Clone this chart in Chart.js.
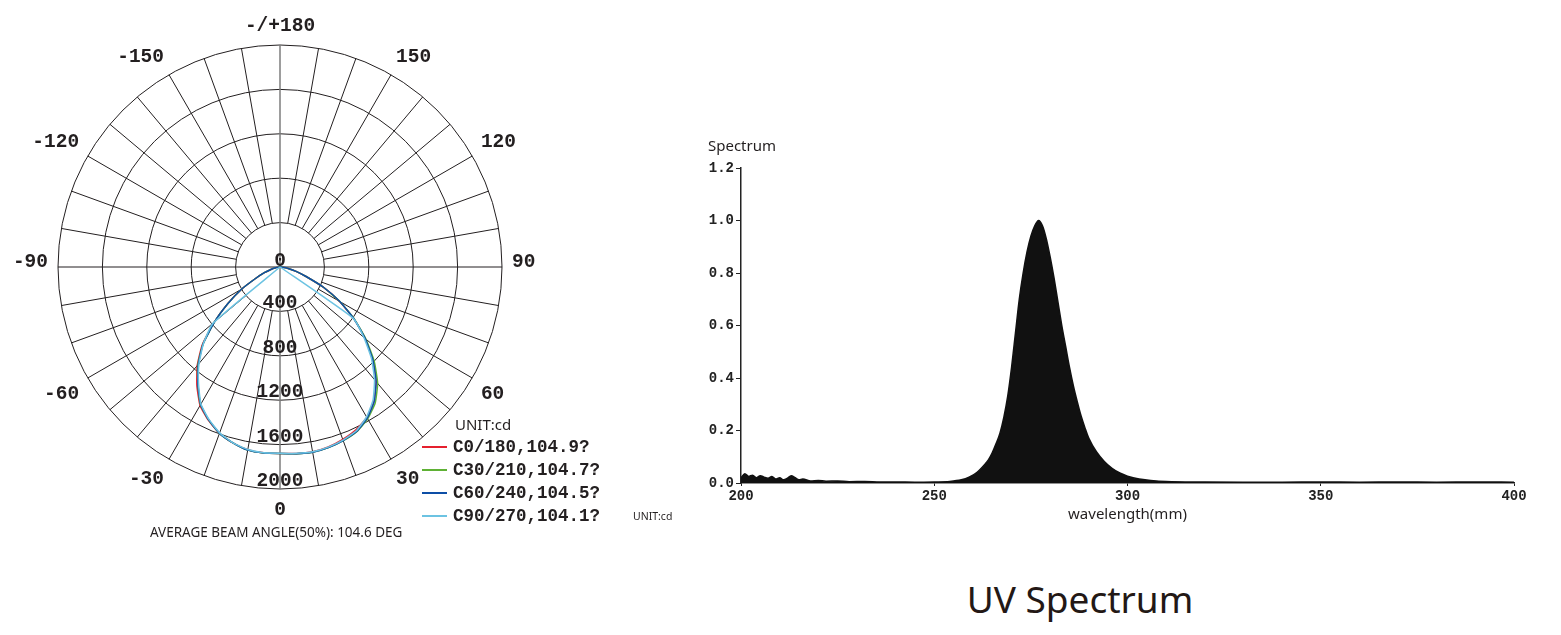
<!DOCTYPE html>
<html>
<head>
<meta charset="utf-8">
<script src="https://cdn.jsdelivr.net/npm/chart.js@4.4.1/dist/chart.umd.min.js"></script>
<style>
  html, body { margin: 0; padding: 0; background: #fff; }
  body {
    width: 1561px;
    height: 635px;
    position: relative;
    overflow: hidden;
    font-family: "Noto Sans", sans-serif;
    color: #231f20;
  }
  canvas { position: absolute; }
  #polar { left: 0; top: 0; }
  #spectrum { left: 690px; top: 130px; }
  .txt { position: absolute; white-space: nowrap; line-height: 1; }
  #legend { position: absolute; left: 422px; top: 414px; }
  #legend .unit { font-size: 15px; margin-left: 33px; margin-bottom: 1px; }
  #legend .row { display: flex; align-items: center; height: 23px; }
  #legend .swatch { width: 25px; height: 2px; margin-right: 6px; }
  #legend .name {
    font-family: "Liberation Mono", monospace;
    font-weight: bold;
    font-size: 17.5px;
  }
</style>
</head>
<body>
<canvas id="polar" width="560" height="540"></canvas>
<canvas id="spectrum" width="850" height="400"></canvas>

<div id="legend"></div>
<div class="txt" style="left:150px; top:526px; font-size:13.5px;">AVERAGE BEAM ANGLE(50%): 104.6 DEG</div>
<div class="txt" style="left:633px; top:511px; font-size:10.5px;">UNIT:cd</div>
<div class="txt" style="left:708px; top:138px; font-size:15px;">Spectrum</div>
<div class="txt" style="left:1080px; top:598px; font-size:37px; transform:translate(-50%,-50%); color:#231815;">UV Spectrum</div>

<script>
// ---------- polar (luminous intensity, cd) ----------
const gammaAngles = [
  -90, -85, -80, -75, -70, -65, -60, -55, -50, -45, -40, -35, -30, -25, -20, -15, -10, -5,
  0, 5, 10, 15, 20, 25, 30, 35, 40, 45, 50, 55, 60, 65, 70, 75, 80, 85, 90,
];

const c0 = [
  0, 12, 40, 85, 150, 240, 400, 575, 775, 990, 1160, 1305, 1440, 1525, 1595, 1640, 1672, 1680,
  1680, 1686, 1690, 1678, 1652, 1618, 1565, 1475, 1345, 1180, 1000, 812, 620, 430, 250, 150, 75, 25, 0,
];
const c30 = [
  0, 12, 40, 85, 150, 240, 400, 570, 770, 980, 1150, 1288, 1432, 1520, 1595, 1640, 1675, 1682,
  1680, 1688, 1695, 1685, 1665, 1636, 1580, 1495, 1368, 1200, 1010, 818, 625, 432, 250, 150, 75, 25, 0,
];
const c60 = [
  0, 12, 40, 85, 150, 240, 400, 570, 770, 980, 1145, 1290, 1430, 1520, 1595, 1640, 1675, 1682,
  1680, 1688, 1695, 1685, 1665, 1634, 1572, 1479, 1347, 1183, 1001, 813, 622, 432, 250, 150, 75, 25, 0,
];
const c90 = [
  0, 0, 0, 0, 0, 0, 0, 0, 790, 975, 1135, 1280, 1425, 1515, 1590, 1640, 1670, 1680,
  1678, 1685, 1690, 1680, 1660, 1628, 1560, 1462, 1325, 1165, 985, 800, 0, 0, 0, 0, 0, 0, 0,
];

const seriesNames = ["C0/180,104.9?", "C30/210,104.7?", "C60/240,104.5?", "C90/270,104.1?"];
const seriesValues = [c0, c30, c60, c90];
const seriesColors = ["#e5202e", "#5fb135", "#0d4ea6", "#6cc3e2"];

const ringValues = [400, 800, 1200, 1600, 2000];
const angleLabels = [180, 150, 120, 90, 60, 30, 0, -30, -60, -90, -120, -150];

// ---------- spectrum ----------
const wavelengths = [
  200, 201, 202, 203, 204, 205, 206, 207, 208, 209, 210, 211, 212, 213, 214, 215, 216, 218,
  220, 222, 225, 228, 232, 236, 240, 245, 250, 254, 257, 259, 261, 263, 264, 265, 266, 267,
  268, 269, 270, 271, 272, 273, 274, 275, 276, 277, 278, 279, 280, 281, 282, 283, 284, 285,
  286, 287, 288, 289, 290, 292, 294, 296, 298, 300, 303, 306, 310, 320, 330, 340, 350, 360,
  370, 380, 390, 400,
];
const intensity = [
  0.02, 0.035, 0.025, 0.03, 0.02, 0.028, 0.022, 0.018, 0.025, 0.015, 0.02, 0.012, 0.018, 0.028, 0.02, 0.012, 0.015, 0.008,
  0.01, 0.007, 0.008, 0.005, 0.006, 0.004, 0.004, 0.003, 0.004, 0.006, 0.012, 0.022, 0.04, 0.07, 0.088, 0.115, 0.15, 0.19,
  0.25, 0.33, 0.44, 0.57, 0.7, 0.8, 0.88, 0.94, 0.98, 1.0, 0.98, 0.93, 0.86, 0.78, 0.69, 0.6, 0.52, 0.44,
  0.37, 0.31, 0.255, 0.21, 0.17, 0.118, 0.082, 0.056, 0.038, 0.026, 0.015, 0.01, 0.006, 0.004, 0.003, 0.003, 0.004, 0.003,
  0.004, 0.003, 0.004, 0.003,
];

const DEG = Math.PI / 180;
const LABEL_FONT = "bold 19.5px 'Liberation Mono', monospace";
const DIGIT_H = 13;
const GRID_COLOR = "#231f20";

// gamma 0 points down, positive gamma to the right
function toXY(value, angle) {
  return { x: value * Math.sin(angle * DEG), y: -value * Math.cos(angle * DEG) };
}

const polarGrid = {
  id: "polarGrid",
  beforeDatasetsDraw(chart) {
    const { ctx, scales: { x, y } } = chart;
    const pt = (v, a) => {
      const p = toXY(v, a);
      return [x.getPixelForValue(p.x), y.getPixelForValue(p.y)];
    };
    const cx = x.getPixelForValue(0);
    const cy = y.getPixelForValue(0);

    ctx.save();
    ctx.strokeStyle = GRID_COLOR;
    ctx.lineWidth = 1;

    ringValues.forEach((v) => {
      ctx.beginPath();
      ctx.arc(cx, cy, x.getPixelForValue(v) - cx, 0, Math.PI * 2);
      ctx.stroke();
    });

    // spokes every 10 degrees, from the first ring outwards
    for (let a = -170; a <= 180; a += 10) {
      if (a % 90 === 0) continue;
      const [x0, y0] = pt(ringValues[0], a);
      const [x1, y1] = pt(ringValues[ringValues.length - 1], a);
      ctx.beginPath();
      ctx.moveTo(x0, y0);
      ctx.lineTo(x1, y1);
      ctx.stroke();
    }

    // main axes through the centre
    const max = ringValues[ringValues.length - 1];
    let [ax, ay] = pt(max, -90);
    let [bx, by] = pt(max, 90);
    ctx.beginPath();
    ctx.moveTo(ax, ay);
    ctx.lineTo(bx, by);
    ctx.stroke();

    [ax, ay] = pt(max, 180);
    [bx, by] = pt(max, 0);
    ctx.strokeStyle = "#7d7d7d";
    ctx.lineWidth = 1.5;
    ctx.beginPath();
    ctx.moveTo(ax, ay);
    ctx.lineTo(bx, by);
    ctx.stroke();
    ctx.restore();
  },
  afterDraw(chart) {
    const { ctx, scales: { x, y } } = chart;
    const cx = x.getPixelForValue(0);
    const cy = y.getPixelForValue(0);
    const max = ringValues[ringValues.length - 1];
    const pxPerUnit = (x.getPixelForValue(max) - cx) / max;

    ctx.save();
    ctx.font = LABEL_FONT;
    ctx.fillStyle = GRID_COLOR;
    ctx.textBaseline = "alphabetic";

    // angle labels: boxes placed just outside the outer ring
    const labelR = max + 10 / pxPerUnit;
    angleLabels.forEach((a) => {
      const p = toXY(labelR, a);
      const px = x.getPixelForValue(p.x);
      const py = y.getPixelForValue(p.y);
      const s = Math.sin(a * DEG);
      const c = Math.cos(a * DEG);
      ctx.textAlign = s > 0.01 ? "left" : s < -0.01 ? "right" : "center";
      let base = py;
      if (c < -0.01) base = py - 4;
      else if (c > 0.01) base = py + 3 + DIGIT_H;
      ctx.fillText(a === 180 ? "-/+180" : String(a), px, base);
    });

    // ring values along the 0 degree axis
    ctx.textAlign = "center";
    ctx.textBaseline = "middle";
    ctx.fillText("0", cx, cy - 6);
    ringValues.forEach((v) => {
      const py = y.getPixelForValue(-v);
      ctx.fillText(String(v), cx, py - 8);
    });
    ctx.restore();
  },
};

new Chart(document.getElementById("polar"), {
  type: "scatter",
  data: {
    datasets: seriesValues.map((values, i) => ({
      label: seriesNames[i],
      data: values.map((v, j) => toXY(v, gammaAngles[j])),
      showLine: true,
      borderColor: seriesColors[i],
      backgroundColor: seriesColors[i],
      borderWidth: 1.5,
      pointRadius: 0,
      tension: 0.15,
      order: 3 - i,
    })),
  },
  options: {
    responsive: false,
    animation: false,
    layout: { padding: { left: 58, right: 58, top: 45, bottom: 51 } },
    scales: {
      x: { display: false, min: -2000, max: 2000 },
      y: { display: false, min: -2000, max: 2000 },
    },
    plugins: { legend: { display: false }, tooltip: { enabled: false } },
  },
  plugins: [polarGrid],
});

// legend (html)
const legend = document.getElementById("legend");
legend.innerHTML = '<div class="unit">UNIT:cd</div>';
seriesNames.forEach((name, i) => {
  const row = document.createElement("div");
  row.className = "row";
  row.innerHTML =
    '<span class="swatch" style="background:' + seriesColors[i] + '"></span>' +
    '<span class="name">' + name + "</span>";
  legend.appendChild(row);
});

// ---------- spectrum chart ----------
const tickFont = { family: "'Liberation Mono', monospace", weight: "bold", size: 14 };

new Chart(document.getElementById("spectrum"), {
  type: "scatter",
  data: {
    datasets: [
      {
        label: "Spectrum",
        data: wavelengths.map((w, i) => ({ x: w, y: intensity[i] })),
        showLine: true,
        borderColor: "#111",
        backgroundColor: "#111",
        borderWidth: 1.5,
        pointRadius: 0,
        fill: "origin",
        cubicInterpolationMode: "monotone",
      },
    ],
  },
  options: {
    responsive: false,
    animation: false,
    layout: { padding: { left: 0, right: 26, top: 38, bottom: 0 } },
    scales: {
      x: {
        type: "linear",
        min: 200,
        max: 400,
        ticks: { stepSize: 50, font: tickFont, color: "#222", padding: 2, maxRotation: 0 },
        grid: { drawOnChartArea: false, drawTicks: true, tickLength: 3, color: "#222" },
        border: { display: true, color: "#222", width: 1.5 },
        title: {
          display: true,
          text: "wavelength(mm)",
          font: { family: "'Noto Sans', sans-serif", size: 15 },
          color: "#231f20",
          padding: { top: 0, bottom: 6 },
        },
        afterFit(scale) {
          scale.height = 47;
        },
      },
      y: {
        min: 0,
        max: 1.2,
        ticks: {
          stepSize: 0.2,
          font: tickFont,
          color: "#222",
          padding: 2,
          callback: (v) => v.toFixed(1),
        },
        grid: { drawOnChartArea: false, drawTicks: true, tickLength: 5, color: "#222" },
        border: { display: true, color: "#222", width: 1.5 },
        afterFit(scale) {
          scale.width = 51;
        },
      },
    },
    plugins: { legend: { display: false }, tooltip: { enabled: false } },
  },
});
</script>
</body>
</html>
